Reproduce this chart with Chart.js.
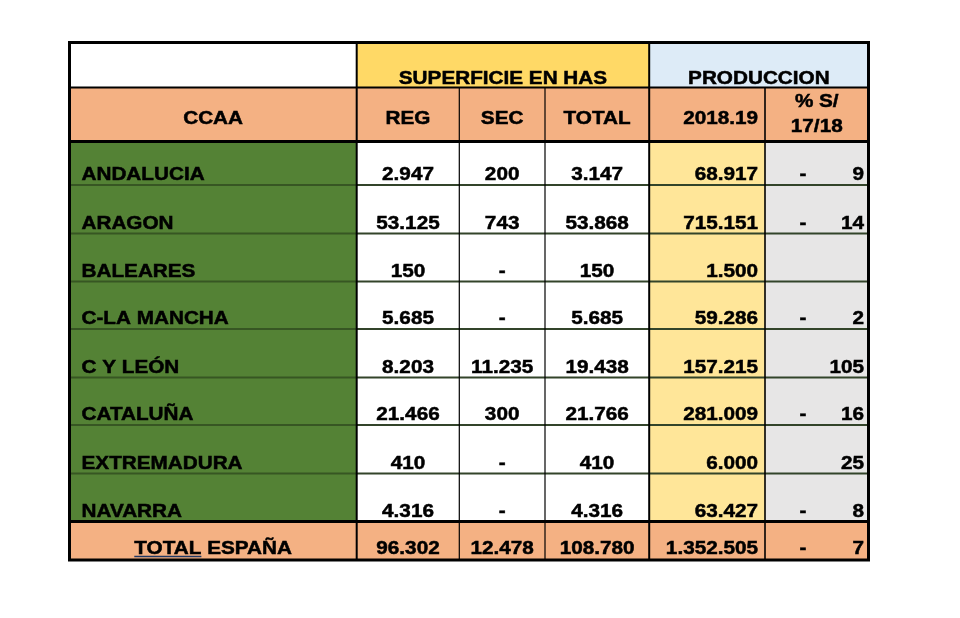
<!DOCTYPE html>
<html lang="es">
<head>
  <meta charset="UTF-8">
  <title>Superficie y producción por CCAA</title>
  <script src="https://cdn.jsdelivr.net/npm/chart.js"></script>
  <style>
    html, body { margin: 0; padding: 0; background: #fff; }
    canvas { display: block; }
  </style>
</head>
<body>
  <canvas id="tableChart" width="960" height="618"></canvas>

  <script>
    const regions = ['ANDALUCIA', 'ARAGON', 'BALEARES', 'C-LA MANCHA', 'C Y LEÓN', 'CATALUÑA', 'EXTREMADURA', 'NAVARRA'];
    const regHa   = [2947, 53125, 150, 5685, 8203, 21466, 410, 4316];
    const secHa   = [200, 743, null, null, 11235, 300, null, null];
    const totalHa = [3147, 53868, 150, 5685, 19438, 21766, 410, 4316];
    const prod1819 = [68917, 715151, 1500, 59286, 157215, 281009, 6000, 63427];
    const pctVs1718 = [-9, -14, null, -2, 105, -16, 25, -8];

    const totalLabel = 'TOTAL ESPAÑA';
    const totals = [96302, 12478, 108780, 1352505, -7];

    const groupHeaders = ['SUPERFICIE EN HAS', 'PRODUCCION'];
    const columnHeaders = ['CCAA', 'REG', 'SEC', 'TOTAL', '2018.19', ['% S/', '17/18']];

    // Layout of the grid (scale units)
    const colWidths = [287.2, 102.6, 85.7, 104.2, 115.8, 103.5];
    const rowHeights = [45, 54, 43.5, 48.5, 48, 47.5, 48.5, 47.5, 48.5, 48, 38.5];

    const colEdges = [0];
    colWidths.forEach(w => colEdges.push(colEdges[colEdges.length - 1] + w));
    const rowEdges = [0];
    rowHeights.forEach(h => rowEdges.push(rowEdges[rowEdges.length - 1] + h));

    const fmt = n => String(Math.abs(n)).replace(/\B(?=(\d{3})+(?!\d))/g, '.');
    const STRETCH = 1.09;

    const tablePlugin = {
      id: 'tableCells',
      beforeDatasetsDraw(chart) {
        const { ctx, scales: { x, y } } = chart;
        const X = v => x.getPixelForValue(v);
        const Y = v => y.getPixelForValue(v);

        const fillCell = (c0, c1, r0, r1, color) => {
          ctx.fillStyle = color;
          ctx.fillRect(X(colEdges[c0]), Y(rowEdges[r0]), X(colEdges[c1]) - X(colEdges[c0]), Y(rowEdges[r1]) - Y(rowEdges[r0]));
        };
        const hLine = (r, c0, c1, color, w) => {
          ctx.strokeStyle = color; ctx.lineWidth = w;
          ctx.beginPath();
          ctx.moveTo(X(colEdges[c0]), Y(rowEdges[r]));
          ctx.lineTo(X(colEdges[c1]), Y(rowEdges[r]));
          ctx.stroke();
        };
        const vLine = (c, r0, r1, color, w) => {
          ctx.strokeStyle = color; ctx.lineWidth = w;
          ctx.beginPath();
          ctx.moveTo(X(colEdges[c]), Y(rowEdges[r0]));
          ctx.lineTo(X(colEdges[c]), Y(rowEdges[r1]));
          ctx.stroke();
        };
        const text = (s, px, py, align) => {
          ctx.save();
          ctx.translate(px, py);
          ctx.scale(STRETCH, 1);
          ctx.textAlign = align;
          ctx.textBaseline = 'alphabetic';
          ctx.fillStyle = '#000';
          ctx.strokeStyle = '#000';
          ctx.lineWidth = 0.5;
          ctx.fillText(s, 0, 0);
          ctx.strokeText(s, 0, 0);
          ctx.restore();
        };

        const nRows = rowHeights.length;
        const last = nRows - 1;

        // cell fills
        fillCell(0, 1, 0, 1, '#ffffff');
        fillCell(1, 4, 0, 1, '#ffd966');
        fillCell(4, 6, 0, 1, '#ddebf7');
        fillCell(0, 6, 1, 2, '#f4b183');
        fillCell(0, 1, 2, last, '#548235');
        fillCell(1, 4, 2, last, '#ffffff');
        fillCell(4, 5, 2, last, '#ffe699');
        fillCell(5, 6, 2, last, '#e7e6e6');
        fillCell(0, 6, last, nRows, '#f4b183');

        // grid lines
        for (let r = 3; r < last; r++) {
          hLine(r, 0, 1, '#375623', 2);
          hLine(r, 1, 6, '#33442a', 2);
        }
        vLine(2, 1, nRows, '#000', 1.2);
        vLine(3, 1, nRows, '#000', 1.2);
        vLine(5, 1, nRows, '#000', 1.6);
        vLine(1, 0, nRows, '#000', 2);
        vLine(4, 0, nRows, '#000', 2);
        hLine(1, 0, 6, '#000', 2);
        hLine(2, 0, 6, '#000', 3);
        hLine(last, 0, 6, '#000', 3);
        ctx.strokeStyle = '#000'; ctx.lineWidth = 3;
        ctx.strokeRect(X(0), Y(0), X(colEdges[6]) - X(0), Y(rowEdges[nRows]) - Y(0));

        // texts
        ctx.font = 'bold 19px "Liberation Sans", Arial, sans-serif';
        const mid = (c0, c1) => (X(colEdges[c0]) + X(colEdges[c1])) / 2;

        text(groupHeaders[0], mid(1, 4), Y(rowEdges[1] - 4), 'center');
        text(groupHeaders[1], mid(4, 6), Y(rowEdges[1] - 4), 'center');

        const hb = Y(rowEdges[2] - 18);
        text(columnHeaders[0], mid(0, 1), hb, 'center');
        text(columnHeaders[1], mid(1, 2), hb, 'center');
        text(columnHeaders[2], mid(2, 3), hb, 'center');
        text(columnHeaders[3], mid(3, 4), hb, 'center');
        text(columnHeaders[4], X(colEdges[5] - 7), hb, 'right');
        text(columnHeaders[5][0], mid(5, 6), Y(rowEdges[2] - 35), 'center');
        text(columnHeaders[5][1], mid(5, 6), Y(rowEdges[2] - 9.5), 'center');

        const pctCell = (v, by) => {
          if (v === null) return;
          if (v < 0) text('-', X(colEdges[5] + 38), by, 'center');
          text(fmt(v), X(colEdges[6] - 4.5), by, 'right');
        };

        regions.forEach((name, i) => {
          const by = Y(rowEdges[i + 3] - 5);
          text(name, X(colEdges[0] + 12), by, 'left');
          text(fmt(regHa[i]), mid(1, 2), by, 'center');
          text(secHa[i] === null ? '-' : fmt(secHa[i]), mid(2, 3), by, 'center');
          text(fmt(totalHa[i]), mid(3, 4), by, 'center');
          text(fmt(prod1819[i]), X(colEdges[5] - 7), by, 'right');
          pctCell(pctVs1718[i], by);
        });

        // total row
        const tb = Y(rowEdges[nRows] - 6);
        const cx = mid(0, 1);
        text(totalLabel, cx, tb, 'center');
        const fullW = ctx.measureText(totalLabel).width * STRETCH;
        const firstW = ctx.measureText(totalLabel.split(' ')[0]).width * STRETCH;
        const ux = cx - fullW / 2;
        ctx.strokeStyle = '#1f3864'; ctx.lineWidth = 1.3;
        ctx.beginPath();
        ctx.moveTo(ux, tb + 2.5);
        ctx.lineTo(ux + firstW, tb + 2.5);
        ctx.stroke();
        text(fmt(totals[0]), mid(1, 2), tb, 'center');
        text(fmt(totals[1]), mid(2, 3), tb, 'center');
        text(fmt(totals[2]), mid(3, 4), tb, 'center');
        text(fmt(totals[3]), X(colEdges[5] - 7), tb, 'right');
        pctCell(totals[4], tb);
      }
    };

    new Chart(document.getElementById('tableChart'), {
      type: 'scatter',
      data: { datasets: [{ data: [] }] },
      options: {
        responsive: false,
        animation: false,
        devicePixelRatio: 1,
        layout: { padding: { left: 69.5, top: 42.5, right: 91.5, bottom: 58 } },
        scales: {
          x: { type: 'linear', min: 0, max: colEdges[colEdges.length - 1], display: false },
          y: { type: 'linear', min: 0, max: rowEdges[rowEdges.length - 1], reverse: true, display: false }
        },
        plugins: { legend: { display: false }, tooltip: { enabled: false } }
      },
      plugins: [tablePlugin]
    });
  </script>
</body>
</html>
